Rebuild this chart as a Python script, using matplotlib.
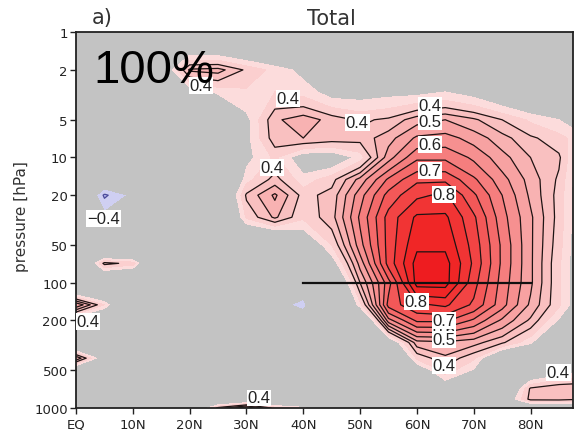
import numpy as np
import matplotlib
matplotlib.use("Agg")
import matplotlib.pyplot as plt
from matplotlib.ticker import NullLocator

# grid: latitude (deg N) x pressure (hPa)
lats = [0, 5, 10, 15, 20, 25, 30, 35, 40, 45, 50, 55, 60, 65, 70, 75, 80, 85, 90]
pres = [1, 2, 3, 5, 7, 10, 15, 20, 30, 50, 70, 100, 150, 200, 300, 400, 500, 700, 850, 1000]

# fraction field, one row per pressure level (lat 0 ... 90)
frac = [
    [0.05, 0.05, 0.05, 0.05, 0.12, 0.10, 0.10, 0.10, 0.10, 0.10, 0.10, 0.12, 0.10, 0.10, 0.10, 0.08, 0.05, 0.05, 0.05],
    [0.05, 0.05, 0.05, 0.20, 0.46, 0.47, 0.39, 0.33, 0.28, 0.20, 0.18, 0.15, 0.18, 0.18, 0.15, 0.12, 0.10, 0.08, 0.05],
    [0.05, 0.05, 0.05, 0.10, 0.25, 0.31, 0.34, 0.35, 0.33, 0.27, 0.27, 0.28, 0.28, 0.30, 0.27, 0.22, 0.18, 0.15, 0.10],
    [0.05, 0.05, 0.05, 0.05, 0.10, 0.15, 0.28, 0.44, 0.48, 0.43, 0.39, 0.41, 0.48, 0.50, 0.46, 0.40, 0.34, 0.30, 0.25],
    [0.05, 0.05, 0.05, 0.05, 0.05, 0.10, 0.28, 0.43, 0.45, 0.43, 0.42, 0.48, 0.56, 0.57, 0.53, 0.47, 0.41, 0.37, 0.30],
    [0.05, 0.05, 0.05, 0.05, 0.05, 0.05, 0.28, 0.36, 0.25, 0.24, 0.32, 0.53, 0.64, 0.64, 0.59, 0.52, 0.45, 0.41, 0.22],
    [0.00, -0.15, -0.10, 0.00, 0.05, 0.05, 0.33, 0.42, 0.32, 0.38, 0.52, 0.66, 0.74, 0.74, 0.66, 0.57, 0.48, 0.39, 0.20],
    [0.00, -0.42, -0.27, 0.00, 0.05, 0.10, 0.41, 0.51, 0.38, 0.42, 0.58, 0.72, 0.79, 0.81, 0.71, 0.60, 0.49, 0.38, 0.20],
    [0.00, -0.25, -0.10, 0.00, 0.00, 0.05, 0.36, 0.46, 0.36, 0.43, 0.61, 0.77, 0.86, 0.86, 0.76, 0.62, 0.51, 0.38, 0.20],
    [0.00, 0.00, 0.00, 0.00, 0.00, 0.00, 0.05, 0.05, 0.20, 0.35, 0.58, 0.77, 0.89, 0.89, 0.78, 0.64, 0.51, 0.37, 0.20],
    [0.05, 0.42, 0.38, 0.00, 0.00, 0.00, 0.00, 0.00, 0.05, 0.25, 0.52, 0.77, 0.92, 0.92, 0.79, 0.64, 0.51, 0.36, 0.20],
    [0.05, 0.05, 0.00, 0.00, 0.00, 0.00, 0.00, 0.00, -0.20, 0.10, 0.45, 0.68, 0.92, 0.92, 0.77, 0.63, 0.51, 0.36, 0.20],
    [0.55, 0.35, 0.05, 0.00, 0.00, 0.00, 0.00, -0.25, -0.34, 0.02, 0.33, 0.72, 0.79, 0.81, 0.74, 0.62, 0.49, 0.36, 0.20],
    [0.20, 0.10, 0.00, 0.00, 0.00, 0.00, 0.00, 0.00, -0.20, 0.00, 0.08, 0.58, 0.71, 0.71, 0.64, 0.54, 0.44, 0.29, 0.15],
    [0.10, 0.05, 0.00, 0.00, 0.00, 0.00, 0.00, 0.00, 0.00, 0.00, 0.00, 0.20, 0.48, 0.49, 0.47, 0.41, 0.31, 0.15, 0.10],
    [0.50, 0.22, 0.00, 0.00, 0.00, 0.00, 0.00, 0.00, 0.00, 0.00, 0.00, 0.05, 0.36, 0.44, 0.36, 0.15, 0.12, 0.10, 0.10],
    [0.15, 0.05, 0.00, 0.00, 0.00, 0.00, 0.00, 0.00, 0.00, 0.00, 0.00, 0.05, 0.22, 0.38, 0.29, 0.12, 0.18, 0.25, 0.30],
    [0.05, 0.05, 0.00, 0.00, 0.00, 0.00, 0.00, 0.05, 0.05, 0.00, 0.00, 0.05, 0.10, 0.22, 0.20, 0.10, 0.41, 0.45, 0.45],
    [0.05, 0.05, 0.00, 0.00, 0.05, 0.10, 0.15, 0.10, 0.10, 0.00, 0.00, 0.00, 0.05, 0.10, 0.10, 0.20, 0.42, 0.42, 0.40],
    [0.05, 0.05, 0.00, 0.05, 0.10, 0.42, 0.55, 0.38, 0.32, 0.05, 0.05, 0.05, 0.05, 0.05, 0.05, 0.05, 0.15, 0.18, 0.18],
]

# contour labels as they sit in the picture
label_lat = [22, 37.3, 49.5, 62.3, 62.3, 62.3, 62.3, 64.8, 34.5, 4.8, 2.1, 32.2, 59.9, 64.8, 64.8, 64.8, 64.8, 84.9]
label_p = [2.65, 3.4, 5.25, 3.83, 5.15, 7.9, 12.7, 19.8, 12, 30.7, 205, 830, 142, 242, 285, 201, 460, 520]
label_txt = ["0.4", "0.4", "0.4", "0.4", "0.5", "0.6", "0.7", "0.8", "0.4", "\u22120.4", "0.4", "0.4",
             "0.8", "0.6", "0.5", "0.7", "0.4", "0.4"]

# reference line
line_lat = [40, 80]
line_p = [100, 100]

xticks = [0, 10, 20, 30, 40, 50, 60, 70, 80]
xticklabels = ["EQ", "10N", "20N", "30N", "40N", "50N", "60N", "70N", "80N"]
yticks = [1, 2, 5, 10, 20, 50, 100, 200, 500, 1000]

pos_levels = list(np.round(np.arange(0.3, 0.91, 0.05), 2))
fill_levels = [-2, -0.4, -0.3] + pos_levels + [2]
fill_colors = ["#b4b4ea", "#cfcff2", "#c3c3c3",
               "#fcdcdc", "#fbcfcf", "#f9c0c0", "#f8b2b2", "#f7a2a2", "#f69090",
               "#f57e7e", "#f46a6a", "#f35858", "#f24444", "#f13434", "#f02626", "#ee1c20"]
line_levels = [-0.4] + pos_levels[2:]
line_colors = ["#4a4a9a"] + ["#1e1414"] * (len(line_levels) - 1)

fig = plt.figure(figsize=(5.76, 4.31), dpi=100)
ax = fig.add_axes([0.132, 0.051, 0.863, 0.872])
ax.set_facecolor("#c3c3c3")

ax.contourf(lats, pres, frac, levels=fill_levels, colors=fill_colors)
ax.contour(lats, pres, frac, levels=line_levels, colors=line_colors, linewidths=0.9)
ax.plot(line_lat, line_p, color="#111111", lw=1.6, zorder=4)

for la, p, t in zip(label_lat, label_p, label_txt):
    ax.text(la, p, t, ha="center", va="center", fontsize=12, family="Liberation Sans",
            color="#222222", zorder=6, clip_on=False,
            bbox=dict(fc="white", ec="none", pad=0.6))

ax.text(0.034, 0.867, "100%", transform=ax.transAxes, fontsize=34,
        family="Liberation Sans", va="baseline", ha="left", zorder=7)

ax.set_yscale("log")
ax.set_ylim(1000, 1)
ax.set_xlim(0, 87.5)
ax.set_yticks(yticks)
ax.set_yticklabels([str(v) for v in yticks])
ax.yaxis.set_minor_locator(NullLocator())
ax.set_xticks(xticks)
ax.set_xticklabels(xticklabels)
ax.tick_params(direction="out", length=4, width=1, labelsize=9.5, pad=2, colors="#222222")
ax.tick_params(axis="x", pad=3)
for s in ax.spines.values():
    s.set_linewidth(1.3)
    s.set_color("#222222")

fig.text(0.575, 0.955, "Total", ha="center", va="center", fontsize=15, color="#333333")
fig.text(0.16, 0.958, "a)", ha="left", va="center", fontsize=15, color="#333333")
fig.text(0.038, 0.497, "pressure [hPa]", rotation=90, ha="center", va="center",
         fontsize=11, color="#333333")

fig.savefig("out.png", dpi=100)
